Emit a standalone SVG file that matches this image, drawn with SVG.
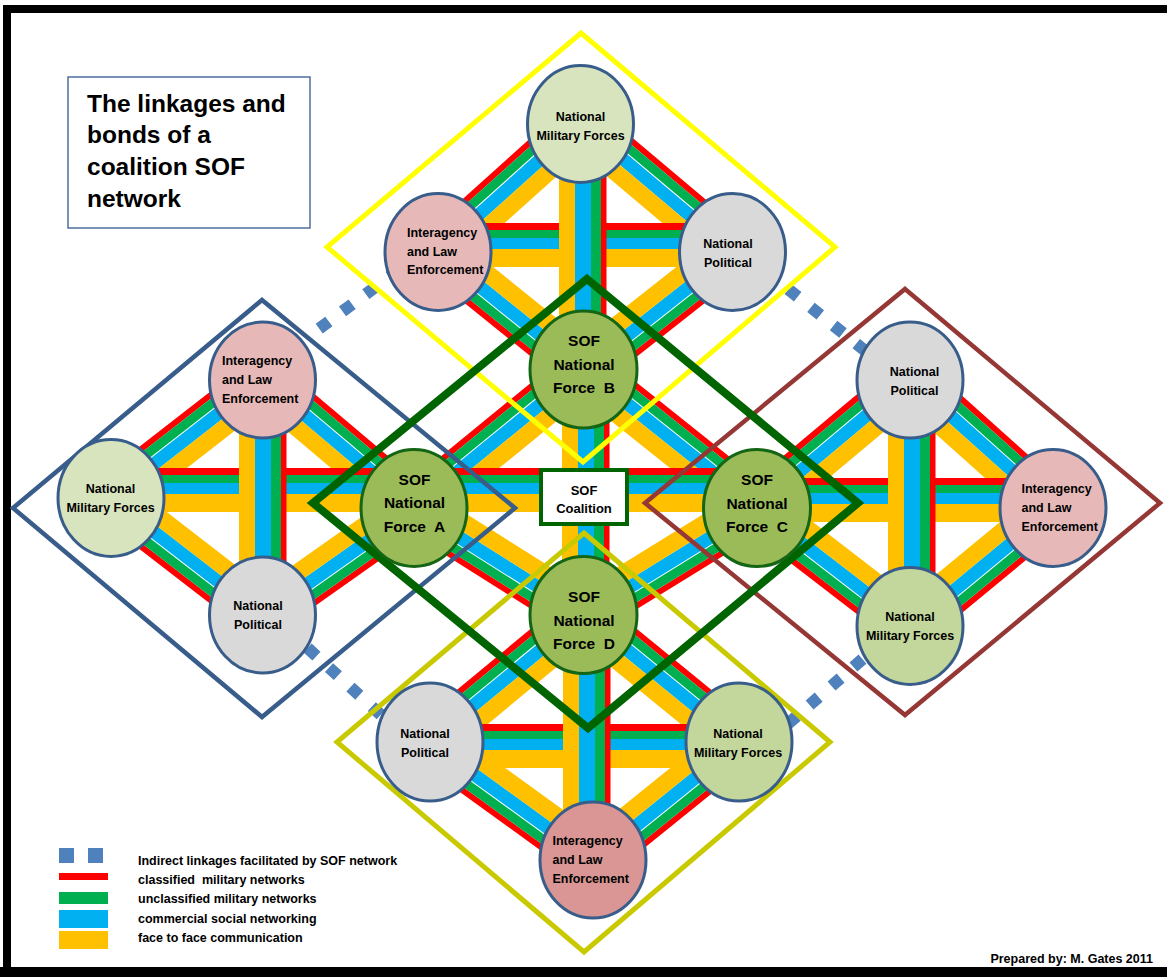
<svg xmlns="http://www.w3.org/2000/svg" width="1167" height="977" viewBox="0 0 1167 977">
<defs>
<style>
text{font-family:"Liberation Sans",Arial,sans-serif;font-weight:bold;fill:#000;white-space:pre}
.n{font-size:12.5px;text-anchor:middle}
.nl{font-size:12.5px}
.s{font-size:15.5px;text-anchor:middle}
.nd{stroke:#385D8A;stroke-width:3}
.sof{fill:#9BBB59;stroke:#146514;stroke-width:3}
.nmf1{fill:#D7E4BD}.nmf2{fill:#C3D69B}.ia1{fill:#E6B9B8}.ia2{fill:#D99694}.np{fill:#D9D9D9}
.dm{fill:none;stroke-linejoin:miter}
.dot{fill:none;stroke:#4F81BD;stroke-width:12;stroke-dasharray:12 17}
.lg{font-size:12.5px}
</style>
<g id="bd">
<rect x="0" y="-23" width="1" height="6" fill="#FF0000"/>
<rect x="0" y="-17" width="1" height="9" fill="#00B050"/>
<rect x="0" y="-7" width="1" height="13" fill="#00B0F0"/>
<rect x="0" y="6" width="1" height="17" fill="#FFC000"/>
</g>
<g id="bh">
<rect x="0" y="-22" width="1" height="7" fill="#FF0000"/>
<rect x="0" y="-15" width="1" height="8" fill="#00B050"/>
<rect x="0" y="-7" width="1" height="11" fill="#00B0F0"/>
<rect x="0" y="4" width="1" height="18" fill="#FFC000"/>
</g>
<g id="bv">
<rect x="0" y="-23.5" width="1" height="5.5" fill="#FF0000"/>
<rect x="0" y="-18" width="1" height="10" fill="#00B050"/>
<rect x="0" y="-8" width="1" height="16" fill="#00B0F0"/>
<rect x="0" y="8" width="1" height="16" fill="#FFC000"/>
</g>
</defs>
<rect width="1167" height="977" fill="#fff"/>
<g id="frame" fill="#000">
<rect x="3" y="5" width="1164" height="8"/>
<rect x="3" y="5" width="8" height="972"/>
<rect x="0" y="967" width="1167" height="10"/>
</g>
<g id="connectors">
<g id="bands-diagonal">
<use href="#bd" transform="translate(580.5,124) rotate(40.10) scale(198.7,1)"/>
<use href="#bd" transform="translate(732.5,252) rotate(141.74) scale(189.8,1)"/>
<use href="#bd" transform="translate(583.5,369.5) rotate(-141.08) scale(187,1)"/>
<use href="#bd" transform="translate(438,252) rotate(-41.93) scale(191.5,1)"/>
<use href="#bd" transform="translate(262.5,380) rotate(40.19) scale(198.3,1)"/>
<use href="#bd" transform="translate(414,508) rotate(144.77) scale(185.5,1)"/>
<use href="#bd" transform="translate(262.5,615) rotate(-142.32) scale(191.4,1)"/>
<use href="#bd" transform="translate(111,498) rotate(-37.91) scale(192,1)"/>
<use href="#bd" transform="translate(910,380) rotate(41.83) scale(191.9,1)"/>
<use href="#bd" transform="translate(1053,508) rotate(140.47) scale(185.4,1)"/>
<use href="#bd" transform="translate(910,626) rotate(-142.36) scale(193.2,1)"/>
<use href="#bd" transform="translate(757,508) rotate(-39.92) scale(199.5,1)"/>
<use href="#bd" transform="translate(583.5,615) rotate(39.23) scale(200.8,1)"/>
<use href="#bd" transform="translate(739,742) rotate(141.06) scale(187.7,1)"/>
<use href="#bd" transform="translate(593,860) rotate(-144.1) scale(201.2,1)"/>
<use href="#bd" transform="translate(430,742) rotate(-39.6) scale(199.2,1)"/>
<use href="#bd" transform="translate(583.5,369.5) rotate(38.6) scale(222,1)"/>
<use href="#bd" transform="translate(757,508) rotate(148.34) scale(203.8,1)"/>
<use href="#bd" transform="translate(583.5,615) rotate(-147.74) scale(200.4,1)"/>
<use href="#bd" transform="translate(414,508) rotate(-39.25) scale(218.9,1)"/>
</g>
<g id="bands-horizontal">
<use href="#bh" transform="translate(438,245) scale(294.5,1)"/>
<use href="#bh" transform="translate(111,490) scale(303,1)"/>
<use href="#bh" transform="translate(414,490) scale(343,1)"/>
<use href="#bh" transform="translate(757,500) scale(296,1)"/>
<use href="#bh" transform="translate(430,746) scale(309,1)"/>
</g>
<g id="bands-vertical">
<use href="#bv" transform="translate(583,124) rotate(90) scale(245.5,1)"/>
<use href="#bv" transform="translate(263,380) rotate(90) scale(235,1)"/>
<use href="#bv" transform="translate(586,369.5) rotate(90) scale(245.5,1)"/>
<use href="#bv" transform="translate(912,380) rotate(90) scale(246,1)"/>
<use href="#bv" transform="translate(587,615) rotate(90) scale(245,1)"/>
</g>
<g id="indirect">
<line class="dot" x1="319.2" y1="328.6" x2="399.6" y2="269.1"/>
<line class="dot" x1="788.3" y1="289.25" x2="866.4" y2="351.75"/>
<line class="dot" x1="307.6" y1="648" x2="381.4" y2="715.4"/>
<line class="dot" x1="862.5" y1="659.1" x2="787" y2="724.6"/>
</g>
</g>
<g id="groups">
<polygon class="dm" points="581,33 835,247 583,462 327,247" stroke="#FFFF00" stroke-width="5"/>
<polygon class="dm" points="262,300 515,508 262,717 13,508" stroke="#385D8A" stroke-width="4.5"/>
<polygon class="dm" points="905,289 1160,503 905,715 645,503" stroke="#953735" stroke-width="4.5"/>
<polygon class="dm" points="584,533 830,742 584,952 337,742" stroke="#C9C900" stroke-width="5"/>
<polygon class="dm" points="587,279 858,503 588,728 313,503" stroke="#006400" stroke-width="8"/>
</g>
<g id="title">
<rect x="68" y="77" width="242" height="151" fill="#fff" stroke="#4F6F9F" stroke-width="1.5"/>
<text x="87" y="112" font-size="24.5">The linkages and</text>
<text x="87" y="143" font-size="24.5">bonds of a</text>
<text x="87" y="175" font-size="24.5">coalition SOF</text>
<text x="87" y="207" font-size="24.5">network</text>
</g>
<g id="n-top-nmf"><ellipse class="nd nmf1" cx="580.5" cy="124" rx="53" ry="58.5"/><text class="n" x="580.5" y="121">National</text><text class="n" x="580.5" y="140">Military Forces</text></g>
<g id="n-top-ia"><ellipse class="nd ia1" cx="438" cy="252" rx="53" ry="58.5"/><text class="nl" x="407" y="237">Interagency</text><text class="nl" x="407" y="255.5">and Law</text><text class="nl" x="407" y="274">Enforcement</text></g>
<g id="n-top-np"><ellipse class="nd np" cx="732.5" cy="252" rx="53" ry="58.5"/><text class="n" x="728" y="248">National</text><text class="n" x="728" y="267">Political</text></g>
<g id="n-sof-b"><ellipse class="sof" cx="583.5" cy="369.5" rx="53.5" ry="58.5"/><text class="s" x="584" y="346">SOF</text><text class="s" x="584" y="370">National</text><text class="s" x="584" y="393">Force  B</text></g>
<g id="n-left-ia"><ellipse class="nd ia1" cx="262.5" cy="380" rx="53" ry="58"/><text class="nl" x="222" y="365">Interagency</text><text class="nl" x="222" y="384">and Law</text><text class="nl" x="222" y="403">Enforcement</text></g>
<g id="n-left-nmf"><ellipse class="nd nmf1" cx="111" cy="498" rx="53" ry="58.5"/><text class="n" x="110.5" y="493">National</text><text class="n" x="110.5" y="512">Military Forces</text></g>
<g id="n-left-np"><ellipse class="nd np" cx="262.5" cy="615" rx="53" ry="58"/><text class="n" x="258" y="610">National</text><text class="n" x="258" y="629">Political</text></g>
<g id="n-sof-a"><ellipse class="sof" cx="414" cy="508" rx="53" ry="58.5"/><text class="s" x="414.5" y="485">SOF</text><text class="s" x="414.5" y="508">National</text><text class="s" x="414.5" y="532">Force  A</text></g>
<g id="n-right-np"><ellipse class="nd np" cx="910" cy="380" rx="53" ry="58"/><text class="n" x="914.5" y="376">National</text><text class="n" x="914.5" y="395">Political</text></g>
<g id="n-right-ia"><ellipse class="nd ia1" cx="1053" cy="508" rx="53" ry="58.5"/><text class="nl" x="1021.5" y="493">Interagency</text><text class="nl" x="1021.5" y="512">and Law</text><text class="nl" x="1021.5" y="531">Enforcement</text></g>
<g id="n-right-nmf"><ellipse class="nd nmf2" cx="910" cy="626" rx="53" ry="58.5"/><text class="n" x="910" y="621">National</text><text class="n" x="910" y="640">Military Forces</text></g>
<g id="n-sof-c"><ellipse class="sof" cx="757" cy="508" rx="53.5" ry="58.5"/><text class="s" x="757" y="485">SOF</text><text class="s" x="757" y="509">National</text><text class="s" x="757" y="532">Force  C</text></g>
<g id="n-sof-d"><ellipse class="sof" cx="583.5" cy="615" rx="53.5" ry="58.5"/><text class="s" x="584" y="602">SOF</text><text class="s" x="584" y="626">National</text><text class="s" x="584" y="649">Force  D</text></g>
<g id="n-bottom-np"><ellipse class="nd np" cx="430" cy="742" rx="53" ry="59"/><text class="n" x="425" y="738">National</text><text class="n" x="425" y="757">Political</text></g>
<g id="n-bottom-nmf"><ellipse class="nd nmf2" cx="739" cy="742" rx="53" ry="59"/><text class="n" x="738" y="738">National</text><text class="n" x="738" y="757">Military Forces</text></g>
<g id="n-bottom-ia"><ellipse class="nd ia2" cx="593" cy="860" rx="53" ry="58"/><text class="nl" x="552.5" y="845">Interagency</text><text class="nl" x="552.5" y="864">and Law</text><text class="nl" x="552.5" y="883">Enforcement</text></g>
<g id="n-coalition"><rect x="541" y="470" width="86" height="54" fill="#fff" stroke="#006400" stroke-width="4"/><text x="584" y="495" font-size="13" text-anchor="middle">SOF</text><text x="584" y="513" font-size="13" text-anchor="middle">Coalition</text></g>
<g id="legend">
<rect x="59" y="848" width="15" height="15" fill="#4F81BD"/>
<rect x="88" y="848" width="15" height="15" fill="#4F81BD"/>
<rect x="59" y="873" width="49" height="7" fill="#FF0000"/>
<rect x="59" y="892" width="49" height="12" fill="#00B050"/>
<rect x="59" y="910" width="49" height="18" fill="#00B0F0"/>
<rect x="59" y="931" width="49" height="18" fill="#FFC000"/>
<text class="lg" x="138" y="865">Indirect linkages facilitated by SOF network</text>
<text class="lg" x="138" y="884">classified  military networks</text>
<text class="lg" x="138" y="903">unclassified military networks</text>
<text class="lg" x="138" y="922.5">commercial social networking</text>
<text class="lg" x="138" y="941.5">face to face communication</text>
</g>
<text x="1153" y="963" font-size="12.5" text-anchor="end">Prepared by: M. Gates 2011</text>
</svg>
